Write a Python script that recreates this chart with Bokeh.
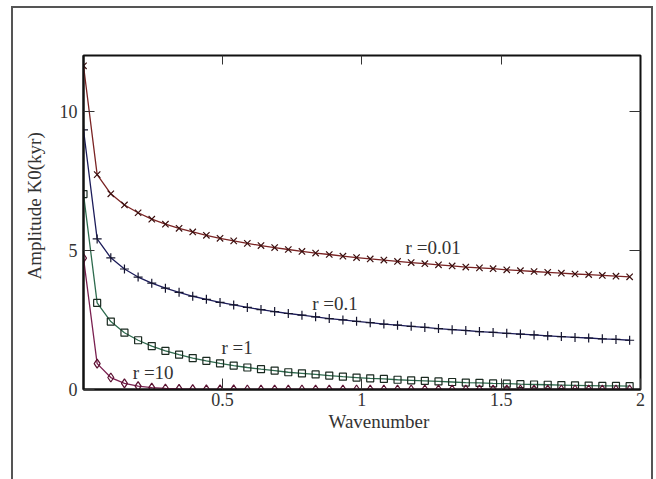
from bokeh.plotting import figure
from bokeh.models import Range1d, FixedTicker, LinearAxis, Label, Title
from bokeh.embed import file_html
from bokeh.resources import INLINE

# ---- data ----
wavenumber = [0.001, 0.05, 0.099, 0.148, 0.197, 0.246, 0.295, 0.344, 0.393, 0.442,
              0.491, 0.54, 0.589, 0.638, 0.687, 0.736, 0.785, 0.834, 0.883, 0.932,
              0.981, 1.03, 1.079, 1.128, 1.177, 1.226, 1.275, 1.324, 1.373, 1.422,
              1.471, 1.52, 1.569, 1.618, 1.667, 1.716, 1.765, 1.814, 1.863, 1.912, 1.961]

amp_r001 = [11.63, 7.72, 7.03, 6.63, 6.35, 6.12, 5.94, 5.79, 5.66, 5.54,
            5.43, 5.34, 5.25, 5.17, 5.10, 5.03, 4.96, 4.90, 4.85, 4.79,
            4.74, 4.69, 4.65, 4.60, 4.56, 4.52, 4.48, 4.44, 4.40, 4.37,
            4.34, 4.30, 4.27, 4.24, 4.21, 4.18, 4.15, 4.13, 4.10, 4.07, 4.05]

amp_r01 = [9.33, 5.41, 4.73, 4.33, 4.04, 3.82, 3.64, 3.49, 3.35, 3.24,
           3.13, 3.04, 2.95, 2.87, 2.80, 2.73, 2.67, 2.61, 2.55, 2.50,
           2.45, 2.40, 2.35, 2.31, 2.27, 2.23, 2.19, 2.15, 2.12, 2.08,
           2.05, 2.02, 1.99, 1.96, 1.93, 1.90, 1.87, 1.85, 1.82, 1.80, 1.77]

amp_r1 = [7.02, 3.11, 2.44, 2.04, 1.77, 1.56, 1.39, 1.25, 1.13, 1.03,
          0.94, 0.86, 0.79, 0.73, 0.68, 0.62, 0.58, 0.54, 0.50, 0.46,
          0.43, 0.40, 0.38, 0.35, 0.33, 0.31, 0.29, 0.27, 0.25, 0.24,
          0.22, 0.21, 0.19, 0.18, 0.17, 0.16, 0.15, 0.14, 0.13, 0.13, 0.12]

amp_r10 = [4.72, 0.93, 0.43, 0.22, 0.12, 0.066, 0.037, 0.021, 0.012, 0.007,
           0.004, 0.002, 0.001, 0.001, 0.0, 0.0, 0.0, 0.0, 0.0, 0.0,
           0.0, 0.0, 0.0, 0.0, 0.0, 0.0, 0.0, 0.0, 0.0, 0.0,
           0.0, 0.0, 0.0, 0.0, 0.0, 0.0, 0.0, 0.0, 0.0, 0.0, 0.0]

x_ticks = [0.5, 1, 1.5, 2]
x_tick_labels = ["0.5", "1", "1.5", "2"]
y_ticks = [0, 5, 10]
y_tick_labels = ["0", "5", "10"]

curve_labels = ["r =0.01", "r =0.1", "r =1", "r =10"]
x_title = "Wavenumber"
y_title = "Amplitude K0(kyr)"

FONT = "Liberation Serif"
TXT = "#333333"

# page border (top, left, right lines of the outer box) drawn as CSS background
border_css = ("linear-gradient(#555,#555) 11px 6px / 2px 480px no-repeat, "
              "linear-gradient(#555,#555) 11px 6px / 642px 2px no-repeat, "
              "linear-gradient(#555,#555) 651px 6px / 2px 480px no-repeat, white")

p = figure(width=656, height=479, output_backend="svg", toolbar_location=None,
           x_range=Range1d(0.001, 2.0), y_range=Range1d(0, 12),
           min_border_left=83, min_border_right=16, min_border_top=55, min_border_bottom=90,
           background_fill_color="white", border_fill_color=None,
           styles={"background": border_css})
p.xgrid.visible = False
p.ygrid.visible = False
p.outline_line_color = "#111111"
p.outline_line_width = 2

for ax, ticks, labels in ((p.xaxis[0], x_ticks, x_tick_labels), (p.yaxis[0], y_ticks, y_tick_labels)):
    ax.ticker = FixedTicker(ticks=ticks)
    ax.major_label_overrides = {t: l for t, l in zip(ticks, labels)}
    ax.major_tick_in = 11
    ax.major_tick_out = 0
    ax.minor_tick_line_color = None
    ax.major_tick_line_color = "#333333"
    ax.axis_line_color = "#111111"
    ax.axis_line_width = 2
    ax.major_label_text_font = FONT
    ax.major_label_text_font_size = "18px"
    ax.major_label_text_color = TXT
p.xaxis[0].major_label_standoff = 3
p.yaxis[0].major_label_standoff = 6

top_ax = LinearAxis(ticker=FixedTicker(ticks=[0.5, 1, 1.5]), major_tick_in=9, major_tick_out=0,
                    minor_tick_line_color=None, axis_line_color=None, major_tick_line_color="#333333",
                    major_label_overrides={0.5: "", 1: "", 1.5: ""}, major_label_standoff=0)
right_ax = LinearAxis(ticker=FixedTicker(ticks=[5, 10]), major_tick_in=11, major_tick_out=0,
                      minor_tick_line_color=None, axis_line_color=None, major_tick_line_color="#333333",
                      major_label_overrides={5: "", 10: ""}, major_label_standoff=0)
p.add_layout(top_ax, "above")
p.add_layout(right_ax, "right")

# axis titles placed in side panels
p.add_layout(Title(text=x_title, text_font=FONT, text_font_size="19px", text_font_style="normal",
                   text_color=TXT, align="left", offset=245, standoff=0), "below")
p.add_layout(Title(text=y_title, text_font=FONT, text_font_size="19px", text_font_style="normal",
                   text_color=TXT, align="left", offset=110, standoff=23), "left")

# curves
p.line(wavenumber, amp_r001, line_color="#7a2323", line_width=1.3)
p.scatter(wavenumber, amp_r001, marker="x", size=9, line_color="#3b0f0f", line_width=1.2)

p.line(wavenumber, amp_r01, line_color="#1c1c5a", line_width=1.3)
p.scatter(wavenumber, amp_r01, marker="cross", size=9, line_color="#14142e", line_width=1.2)

p.line(wavenumber, amp_r1, line_color="#2e6b4e", line_width=1.3)
p.scatter(wavenumber, amp_r1, marker="square", size=7, line_color="#1a2a20", fill_color=None, line_width=1.2)

p.line(wavenumber, amp_r10, line_color="#7a2050", line_width=1.3)
p.scatter(wavenumber, amp_r10, marker="diamond", size=9, line_color="#5a1030", fill_color=None, line_width=1.2)

# curve annotations
label_pos = [(1.157, 5.1), (0.822, 3.1), (0.496, 1.5), (0.178, 0.62)]
for txt, (lx, ly) in zip(curve_labels, label_pos):
    p.add_layout(Label(x=lx, y=ly, text=txt, text_font=FONT, text_font_size="19px",
                       text_color=TXT, text_baseline="alphabetic", text_align="left"))

open("out.html", "w").write(file_html(p, INLINE))
